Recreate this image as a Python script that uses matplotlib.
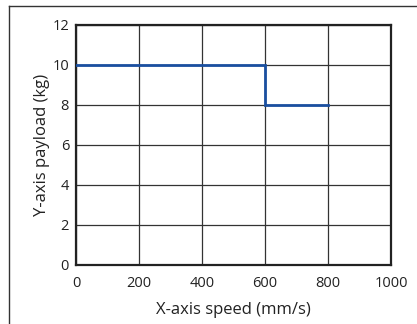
import matplotlib
matplotlib.use("Agg")
import matplotlib.pyplot as plt
from matplotlib.lines import Line2D

plt.rcParams['font.family'] = ['Open Sans', 'DejaVu Sans']

# step curve: payload vs speed
speed = [0, 600, 600, 800]
payload = [10, 10, 8, 8]

xticks = [0, 200, 400, 600, 800, 1000]
yticks = [0, 2, 4, 6, 8, 10, 12]

fig = plt.figure(figsize=(4.17, 3.24), dpi=100)
ax = fig.add_axes([76/417, 1 - 265/324, (391-76)/417, (265-25)/324])

# outer frame, only left and top edges are inside the picture
fx = 8.5 / 417
fy = 1 - 5.5 / 324
fig.lines.append(Line2D([fx, fx], [0, fy], transform=fig.transFigure,
                        color='#333333', linewidth=1.0))
fig.lines.append(Line2D([fx, 1.0], [fy, fy], transform=fig.transFigure,
                        color='#333333', linewidth=1.0))

ax.plot(speed, payload, color='#1a4fa0', linewidth=2.0, solid_joinstyle='miter', zorder=3)

ax.set_xlim(0, 1000)
ax.set_ylim(0, 12)
ax.set_xticks(xticks)
ax.set_yticks(yticks)
ax.grid(True, color='#333333', linewidth=0.9)
ax.tick_params(axis='x', length=0, labelsize=10.5, pad=8, colors='#222222')
ax.tick_params(axis='y', length=0, labelsize=10.5, pad=5, colors='#222222')
for s in ax.spines.values():
    s.set_linewidth(1.6)
    s.set_color('#222222')

ax.set_xlabel('X-axis speed (mm/s)', fontsize=12, color='#222222', labelpad=8)
ax.set_ylabel('Y-axis payload (kg)', fontsize=12, color='#222222', labelpad=2)

fig.savefig('out.png', dpi=100)
